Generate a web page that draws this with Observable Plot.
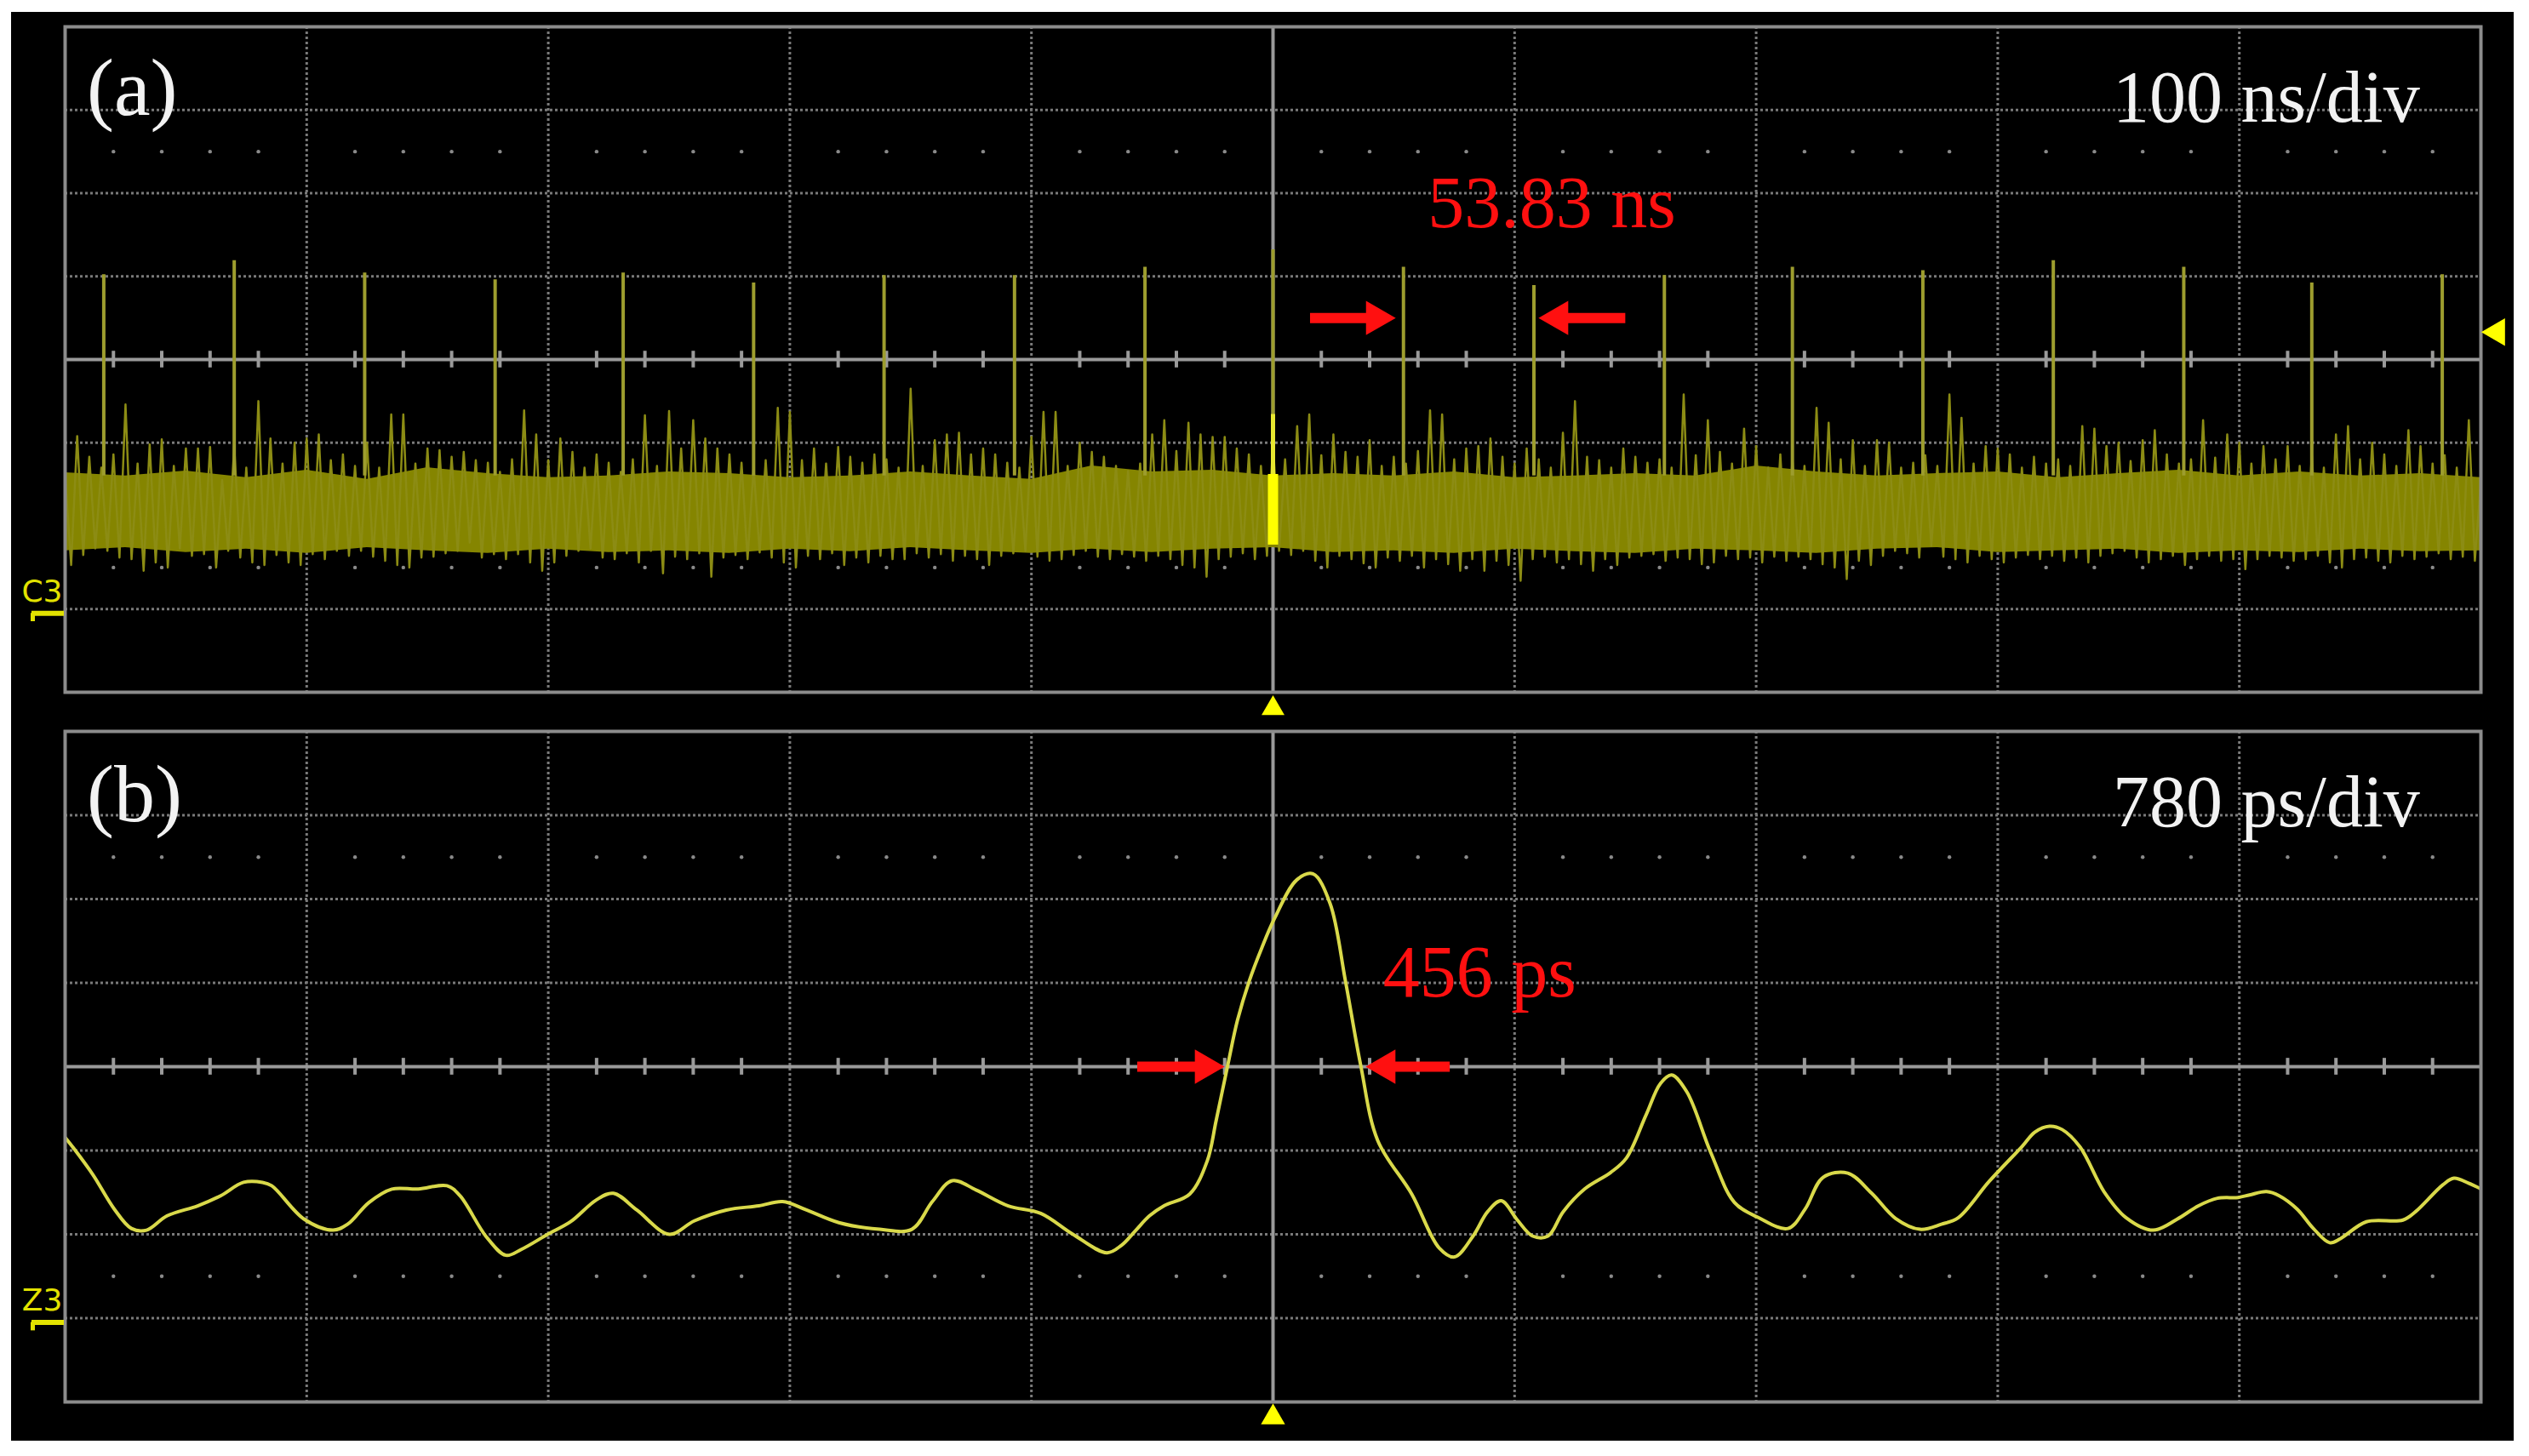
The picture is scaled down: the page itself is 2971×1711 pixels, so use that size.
<!DOCTYPE html>
<html><head><meta charset="utf-8">
<script src="https://cdn.jsdelivr.net/npm/d3@7"></script>
<script src="https://cdn.jsdelivr.net/npm/@observablehq/plot@0.6"></script>
<style>
html,body{margin:0;padding:0;background:#fff;}
#page{position:relative;width:2971px;height:1711px;overflow:hidden;background:#fff;}
#scope{position:absolute;left:13px;top:14px;width:2940px;height:1679px;background:#000;}
#pa,#pb{position:absolute;left:0;}
#pa{top:0px;}
#pb{top:845px;}
</style></head><body>
<div id="page"><div id="scope"></div><div id="pa"></div><div id="pb"></div></div>
<script>
// ---------- Panel (a): 100 ns/div, vertical unit = divisions ----------
const spikeTimesNs = [-484, -430, -376, -322, -269, -215, -161, -107, -53, 0, 54, 108, 162, 215, 269, 323, 377, 430, 484];
const spikePeaksDiv = [1.02, 1.19, 1.04, 0.96, 1.04, 0.92, 1.01, 1.01, 1.11, 1.32, 1.11, 0.89, 1.01, 1.11, 1.07, 1.19, 1.11, 0.92, 1.02];

// noise trace sampled every 5 ns from -500 ns: upper and lower excursions (divisions)
const noiseStartNs = -500, noiseStepNs = 5;
const noiseHighDiv = [
 -1.40,-0.92,-1.17,-1.30,-1.14,-0.54,-1.25,-1.02,-0.96,-1.28,
 -1.07,-1.07,-1.05,-1.45,-1.04,-1.30,-0.50,-0.95,-1.25,-1.00,
 -0.95,-0.90,-1.21,-1.14,-1.28,-1.00,-1.30,-0.66,-0.66,-1.25,
 -1.07,-1.09,-1.17,-1.11,-1.21,-1.24,-1.35,-1.20,-0.61,-0.90,
 -1.21,-0.95,-1.11,-1.30,-1.14,-1.24,-1.35,-1.20,-0.67,-1.28,
 -0.62,-1.07,-0.73,-0.95,-1.07,-1.14,-1.24,-1.30,-1.21,-0.58,
 -0.63,-1.21,-1.07,-1.25,-1.05,-1.17,-1.24,-1.14,-1.20,-1.30,
 -0.35,-1.28,-0.97,-0.90,-0.88,-1.14,-1.07,-1.14,-1.24,-1.30,
 -0.93,-0.63,-0.63,-1.28,-1.00,-1.11,-1.17,-1.28,-1.34,-1.25,
 -0.90,-0.73,-1.10,-0.76,-0.90,-0.93,-0.93,-1.07,-1.14,-1.28,
 -1.00,-1.20,-0.80,-0.66,-1.15,-0.90,-1.11,-1.17,-0.97,-1.28,
 -1.17,-1.25,-1.10,-0.61,-0.66,-1.20,-1.07,-1.04,-0.95,-1.17,
 -1.25,-1.07,-1.20,-1.30,-0.88,-0.50,-1.17,-1.21,-1.30,-1.07,
 -1.17,-1.24,-1.20,-1.30,-0.42,-1.15,-0.73,-1.11,-1.25,-0.83,
 -1.04,-1.30,-1.14,-1.20,-1.28,-0.58,-0.76,-1.20,-0.97,-1.28,
 -0.97,-1.00,-1.30,-1.24,-1.15,-1.28,-0.42,-0.70,-1.25,-1.04,
 -1.07,-1.14,-1.30,-1.17,-1.25,-1.20,-1.28,-0.80,-0.83,-1.04,
 -1.00,-1.22,-0.97,-0.85,-1.14,-1.25,-1.20,-0.73,-1.18,-0.90,
 -1.00,-1.25,-1.04,-1.20,-1.04,-1.28,-1.15,-1.30,-0.90,-0.80,
 -1.20,-1.00,-1.14,-1.28,-0.85,-1.04,-1.25,-1.15,-1.30,-0.73,
 -1.45];
const noiseLowDiv = [
 -2.47,-2.35,-2.27,-2.30,-2.38,-2.40,-2.54,-2.44,-2.50,-2.27,
 -2.36,-2.34,-2.50,-2.30,-2.38,-2.44,-2.47,-2.35,-2.44,-2.47,
 -2.34,-2.40,-2.30,-2.36,-2.30,-2.37,-2.42,-2.47,-2.50,-2.38,
 -2.37,-2.33,-2.30,-2.20,-2.38,-2.34,-2.40,-2.34,-2.44,-2.54,
 -2.44,-2.36,-2.30,-2.27,-2.38,-2.40,-2.33,-2.44,-2.30,-2.57,
 -2.37,-2.40,-2.33,-2.61,-2.38,-2.35,-2.40,-2.32,-2.38,-2.44,
 -2.50,-2.36,-2.40,-2.33,-2.47,-2.38,-2.44,-2.36,-2.40,-2.40,
 -2.33,-2.38,-2.34,-2.42,-2.36,-2.40,-2.47,-2.36,-2.33,-2.30,
 -2.37,-2.42,-2.40,-2.35,-2.30,-2.37,-2.40,-2.34,-2.37,-2.42,
 -2.36,-2.40,-2.47,-2.50,-2.61,-2.40,-2.37,-2.33,-2.40,-2.36,
 -2.30,-2.35,-2.30,-2.42,-2.50,-2.36,-2.40,-2.45,-2.50,-2.38,
 -2.42,-2.36,-2.50,-2.40,-2.46,-2.54,-2.40,-2.54,-2.42,-2.47,
 -2.66,-2.40,-2.37,-2.44,-2.40,-2.46,-2.54,-2.40,-2.47,-2.38,
 -2.36,-2.34,-2.42,-2.38,-2.40,-2.46,-2.44,-2.36,-2.40,-2.38,
 -2.44,-2.37,-2.42,-2.37,-2.40,-2.46,-2.50,-2.64,-2.42,-2.47,
 -2.36,-2.30,-2.33,-2.38,-2.24,-2.37,-2.40,-2.44,-2.36,-2.40,
 -2.44,-2.38,-2.35,-2.40,-2.36,-2.42,-2.38,-2.44,-2.36,-2.33,
 -2.30,-2.38,-2.44,-2.40,-2.36,-2.47,-2.40,-2.36,-2.42,-2.40,
 -2.52,-2.40,-2.36,-2.38,-2.42,-2.40,-2.36,-2.44,-2.50,-2.40,
 -2.38,-2.42,-2.44,-2.36,-2.40,-2.37,-2.33,-2.40,-2.37,-2.42,
 -2.44];
// dense core of the noise band, every 25 ns from -500
const coreStepNs = 25;
const coreTopDiv = [-1.36,-1.40,-1.34,-1.42,-1.33,-1.44,-1.30,-1.37,-1.42,-1.40,
 -1.35,-1.37,-1.42,-1.40,-1.35,-1.40,-1.44,-1.28,-1.35,-1.33,
 -1.40,-1.37,-1.40,-1.35,-1.42,-1.40,-1.37,-1.40,-1.28,-1.35,
 -1.40,-1.37,-1.35,-1.42,-1.37,-1.33,-1.40,-1.35,-1.40,-1.37,-1.42];
const coreBottomDiv = [-2.30,-2.26,-2.32,-2.28,-2.33,-2.26,-2.30,-2.33,-2.28,-2.32,
 -2.30,-2.33,-2.28,-2.31,-2.26,-2.30,-2.33,-2.28,-2.32,-2.28,
 -2.26,-2.32,-2.30,-2.33,-2.28,-2.31,-2.33,-2.28,-2.30,-2.33,
 -2.28,-2.26,-2.32,-2.30,-2.28,-2.33,-2.30,-2.32,-2.28,-2.31,-2.30];
const triggerBurstDiv = {top: -0.66, thickTop: -1.38, bottom: -2.23};

// ---------- Panel (b): 780 ps/div ----------
const pulseTimePs = [-3901,-3871,-3810,-3741,-3686,-3637,-3571,-3472,-3398,-3324,
 -3263,-3233,-3128,-3035,-2988,-2919,-2845,-2760,-2667,-2625,
 -2540,-2477,-2427,-2342,-2268,-2185,-2130,-2054,-1949,-1869,
 -1765,-1660,-1583,-1506,-1402,-1270,-1166,-1100,-1036,-959,
 -855,-750,-646,-536,-489,-445,-399,-352,-269,-212,
 -184,-146,-115,-77,-36,5,77,129,184,234,
 283,338,448,536,586,646,693,737,789,838,
 888,937,1006,1091,1141,1204,1251,1287,1336,1413,
 1490,1567,1663,1718,1776,1856,1933,2010,2089,2158,
 2213,2312,2419,2460,2507,2548,2606,2683,2754,2842,
 2919,2988,3049,3117,3153,3208,3249,3307,3359,3412,
 3447,3530,3648,3689,3777,3813,3860,3901];
const pulseDiv = [-0.84,-0.98,-1.29,-1.70,-1.93,-1.95,-1.78,-1.66,-1.54,-1.38,
 -1.38,-1.42,-1.82,-1.95,-1.88,-1.62,-1.46,-1.46,-1.42,-1.54,
 -2.03,-2.25,-2.18,-2.00,-1.85,-1.59,-1.51,-1.71,-2.00,-1.84,
 -1.71,-1.66,-1.61,-1.71,-1.86,-1.94,-1.94,-1.61,-1.36,-1.47,
 -1.66,-1.75,-2.00,-2.22,-2.13,-1.96,-1.78,-1.66,-1.52,-1.12,
 -0.65,0.02,0.55,1.02,1.42,1.77,2.23,2.30,1.95,1.02,
 0.02,-0.88,-1.52,-2.16,-2.27,-2.02,-1.73,-1.60,-1.83,-2.02,
 -2.02,-1.73,-1.46,-1.26,-1.09,-0.58,-0.20,-0.10,-0.30,-1.02,
 -1.62,-1.80,-1.93,-1.70,-1.32,-1.27,-1.51,-1.81,-1.94,-1.88,
 -1.80,-1.37,-0.95,-0.78,-0.71,-0.75,-0.96,-1.49,-1.80,-1.95,
 -1.82,-1.66,-1.57,-1.56,-1.53,-1.49,-1.54,-1.70,-1.93,-2.10,
 -2.05,-1.85,-1.83,-1.73,-1.41,-1.33,-1.39,-1.46];

// ---------- annotations ----------
const panelLabels = ["(a)", "(b)"];
const timebaseLabels = ["100 ns/div", "780 ps/div"];
const channelLabels = ["C3", "Z3"];
const measureA = {text: "53.83 ns", x: 64, y: 1.59};
const measureB = {text: "456 ps", x: 355, y: 0.84};
const arrowsA = [{tail: 15.5, tip: 50.7, y: 0.5}, {tail: 146, tip: 110, y: 0.5}];
const arrowsB = [{tail: -437, tip: -157, y: 0}, {tail: 572, tip: 300, y: 0}];
const triggerLevelDiv = 0.33;

// ---------- styling ----------
const W = 2971, ML = 76, MR = 57, PLOT_W = W - ML - MR;
const GRID = "#7a7a7a", AXIS = "#9a9a9a", FRAME = "#8c8c8c";
const RED = "#ff1010", WHITE = "#f2f2f2", YEL = "#ffff00", CH = "#e2e200";
const SERIF = "Liberation Serif, Times New Roman, serif";

function scopeGrid(perDiv) {
  const major = d3.range(-4, 5).filter(k => k !== 0).map(k => k * perDiv);
  const majorY = [-3, -2, -1, 1, 2, 3];
  const minorX = d3.range(-24, 25).filter(k => k % 5 !== 0).map(k => k * perDiv / 5);
  return [
    Plot.ruleX(major, {stroke: GRID, strokeWidth: 3, strokeDasharray: "3,3"}),
    Plot.ruleY(majorY, {stroke: GRID, strokeWidth: 3, strokeDasharray: "3,3"}),
    Plot.dot(minorX, {x: d => d, y: 2.5, r: 2.2, fill: "#8a8a8a"}),
    Plot.dot(minorX, {x: d => d, y: -2.5, r: 2.2, fill: "#8a8a8a"}),
    Plot.ruleX([0], {stroke: AXIS, strokeWidth: 4}),
    Plot.ruleY([0], {stroke: AXIS, strokeWidth: 4}),
    Plot.ruleX(minorX, {y1: -0.1, y2: 0.1, stroke: AXIS, strokeWidth: 4})
  ];
}
function arrowMarks(arrows, ppu) {
  const dir = d => Math.sign(d.tip - d.tail);
  return [
    Plot.ruleY(arrows, {y: "y", x1: "tail", x2: d => d.tip - dir(d) * 26 / ppu, stroke: RED, strokeWidth: 12}),
    Plot.dot(arrows, {x: d => d.tip - dir(d) * 23 / ppu, y: "y", symbol: "triangle", r: 15, fill: RED,
      rotate: d => dir(d) > 0 ? 90 : -90})
  ];
}
function channelMarks(label, x0, ppu) {
  return [
    Plot.text([label], {x: x0, y: -2.79, dx: -27, text: d => d, fill: CH, fontSize: 36,
      fontFamily: "DejaVu Sans", textAnchor: "middle", lineAnchor: "middle"}),
    Plot.ruleY([-3], {x1: x0 - 39 / ppu, x2: x0 - 1 / ppu, dy: 5, stroke: CH, strokeWidth: 6}),
    Plot.ruleX([x0 - 38 / ppu], {y1: -3, y2: -3.1, dy: 5, stroke: CH, strokeWidth: 5})
  ];
}

// ---------- Panel (a) ----------
const domA = [-500, 500], ppuA = PLOT_W / 1000;
const noiseTrace = [];
noiseHighDiv.forEach((h, i) => {
  const t = noiseStartNs + i * noiseStepNs;
  noiseTrace.push({t, v: h});
  noiseTrace.push({t: t + noiseStepNs / 2, v: noiseLowDiv[i]});
});
const coreData = coreTopDiv.map((top, i) => ({t: noiseStartNs + i * coreStepNs, top, bot: coreBottomDiv[i]}));
const spikes = spikeTimesNs.map((t, i) => ({t, peak: spikePeaksDiv[i]}));

const plotA = Plot.plot({
  width: W, height: 845, marginLeft: ML, marginRight: MR, marginTop: 31, marginBottom: 32,
  x: {domain: domA, axis: null}, y: {domain: [-4, 4], axis: null},
  style: {background: "transparent", maxWidth: "none", overflow: "visible"},
  marks: [
    ...scopeGrid(100),
    Plot.areaY(coreData, {x: "t", y1: "bot", y2: "top", fill: "#858500", curve: "linear", clip: true}),
    Plot.line(noiseTrace, {x: "t", y: "v", stroke: "#8c8c14", strokeWidth: 2.5, clip: true}),
    Plot.ruleX(spikes, {x: "t", y1: -1.4, y2: "peak", stroke: "#9d9d2e", strokeWidth: 4}),
    Plot.ruleX([0], {y1: triggerBurstDiv.top, y2: triggerBurstDiv.bottom, stroke: "#e8e830", strokeWidth: 5}),
    Plot.ruleX([0], {y1: triggerBurstDiv.thickTop, y2: triggerBurstDiv.bottom, stroke: YEL, strokeWidth: 12}),
    Plot.frame({stroke: FRAME, strokeWidth: 4}),
    Plot.text([panelLabels[0]], {x: -491, y: 2.94, text: d => d, fill: WHITE, fontSize: 96, fontFamily: SERIF, textAnchor: "start", lineAnchor: "bottom"}),
    Plot.text([timebaseLabels[0]], {x: 474.7, y: 2.86, text: d => d, fill: WHITE, fontSize: 86, fontFamily: SERIF, textAnchor: "end", lineAnchor: "bottom"}),
    Plot.text([measureA], {x: "x", y: "y", text: "text", fill: RED, fontSize: 86, fontFamily: SERIF, textAnchor: "start", lineAnchor: "bottom"}),
    ...arrowMarks(arrowsA, ppuA),
    Plot.dot([triggerLevelDiv], {x: domA[1], y: d => d, dx: 19, symbol: "triangle", r: 12, rotate: -90, fill: YEL}),
    Plot.dot([0], {x: d => d, y: -4, dy: 19, symbol: "triangle", r: 10, fill: YEL}),
    ...channelMarks(channelLabels[0], domA[0], ppuA)
  ]
});
document.getElementById("pa").appendChild(plotA);

// ---------- Panel (b) ----------
const domB = [-3900, 3900], ppuB = PLOT_W / 7800;
const pulse = pulseTimePs.map((t, i) => ({t, v: pulseDiv[i]}));
const plotB = Plot.plot({
  width: W, height: 866, marginLeft: ML, marginRight: MR, marginTop: 14, marginBottom: 64,
  x: {domain: domB, axis: null}, y: {domain: [-4, 4], axis: null},
  style: {background: "transparent", maxWidth: "none", overflow: "visible"},
  marks: [
    ...scopeGrid(780),
    Plot.line(pulse, {x: "t", y: "v", stroke: "#d9d94a", strokeWidth: 4, curve: "catmull-rom", clip: true}),
    Plot.frame({stroke: FRAME, strokeWidth: 4}),
    Plot.text([panelLabels[1]], {x: -3830, y: 2.93, text: d => d, fill: WHITE, fontSize: 96, fontFamily: SERIF, textAnchor: "start", lineAnchor: "bottom"}),
    Plot.text([timebaseLabels[1]], {x: 3703, y: 2.87, text: d => d, fill: WHITE, fontSize: 86, fontFamily: SERIF, textAnchor: "end", lineAnchor: "bottom"}),
    Plot.text([measureB], {x: "x", y: "y", text: "text", fill: RED, fontSize: 86, fontFamily: SERIF, textAnchor: "start", lineAnchor: "bottom"}),
    ...arrowMarks(arrowsB, ppuB),
    Plot.dot([0], {x: d => d, y: -4, dy: 18, symbol: "triangle", r: 10.5, fill: YEL}),
    ...channelMarks(channelLabels[1], domB[0], ppuB)
  ]
});
document.getElementById("pb").appendChild(plotB);
</script>
</body></html>
